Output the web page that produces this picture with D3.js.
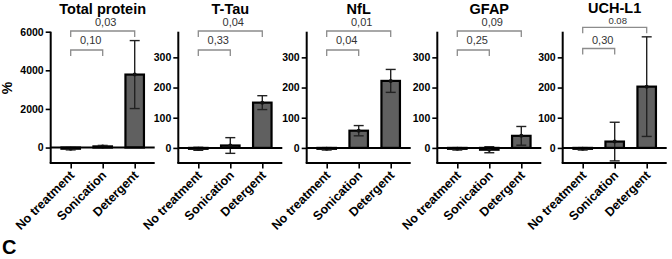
<!DOCTYPE html>
<html><head><meta charset="utf-8">
<script src="https://cdn.jsdelivr.net/npm/d3@7"></script>
<style>html,body{margin:0;padding:0;background:#fff;}svg{display:block;}</style>
</head><body>
<svg id="c" width="672" height="259"></svg>
<script>
// ---- data ----
const categories = ["No treatment", "Sonication", "Detergent"];
const titles = ["Total protein", "T-Tau", "NfL", "GFAP", "UCH-L1"];
const totalProteinMean = [-60, 60, 3780];
const totalProteinSD = [60, 50, 1760];
const tTauMean = [-3, 8, 150];
const tTauSD = [5, 26, 23];
const nflMean = [-3, 57, 222];
const nflSD = [4, 17, 38];
const gfapMean = [-3, -6, 40];
const gfapSD = [4, 10, 31];
const uchl1Mean = [-3, 21, 203];
const uchl1SD = [4, 64, 165];
const pOuter = ["0,03", "0,04", "0,01", "0,09", "0.08"];
const pInner = ["0,10", "0,33", "0,04", "0,25", "0,30"];
const yTicksTotal = [0, 2000, 4000, 6000];
const yTicksOther = [0, 100, 200, 300];

const panels = [
  {mean: totalProteinMean, sd: totalProteinSD, domain: [-800, 6000], ticks: yTicksTotal},
  {mean: tTauMean, sd: tTauSD, domain: [-50, 385], ticks: yTicksOther},
  {mean: nflMean, sd: nflSD, domain: [-50, 385], ticks: yTicksOther},
  {mean: gfapMean, sd: gfapSD, domain: [-50, 385], ticks: yTicksOther},
  {mean: uchl1Mean, sd: uchl1SD, domain: [-50, 385], ticks: yTicksOther}
];

// ---- layout ----
const panelX = [50.7, 178.3, 306.7, 437.3, 562.7];
const plotW = 104, yTop = 31.7, yBot = 163;
const FONT = "'Liberation Sans', Arial, Helvetica, sans-serif";
const svg = d3.select("#c").style("font-family", FONT);

panels.forEach((p, i) => {
  const g = svg.append("g").attr("transform", `translate(${panelX[i]},0)`);
  const x = d3.scalePoint().domain(categories).range([0, plotW]).padding(0.625);
  const y = d3.scaleLinear().domain(p.domain).range([yBot, yTop]);
  const isU = i === 4;

  // title
  g.append("text").attr("x", plotW / 2).attr("y", isU ? 13 : 13.5).attr("text-anchor", "middle")
    .attr("font-weight", "bold").attr("font-size", 14.5).attr("fill", "#000").text(titles[i]);

  // bars
  const bw = 18.5;
  g.selectAll("rect.bar").data(p.mean).join("rect").attr("class", "bar")
    .attr("x", (d, k) => x(categories[k]) - bw / 2)
    .attr("width", bw)
    .attr("y", d => y(Math.max(d, 0)))
    .attr("height", d => Math.abs(y(d) - y(0)))
    .attr("fill", "#606060").attr("stroke", "#000").attr("stroke-width", 2.2);

  // error bars
  const eb = g.append("g").attr("stroke", "#222").attr("stroke-width", 1.4).attr("fill", "none");
  p.mean.forEach((m, k) => {
    const cx = x(categories[k]);
    const hi = y(m + p.sd[k]), lo = y(m - p.sd[k]);
    eb.append("line").attr("x1", cx).attr("x2", cx).attr("y1", hi).attr("y2", lo);
    eb.append("line").attr("x1", cx - 5).attr("x2", cx + 5).attr("y1", hi).attr("y2", hi);
    eb.append("line").attr("x1", cx - 5).attr("x2", cx + 5).attr("y1", lo).attr("y2", lo);
    g.append("circle").attr("cx", cx).attr("cy", y(m)).attr("r", 2).attr("fill", "#111");
  });

  // zero line
  g.append("line").attr("x1", 0).attr("x2", plotW).attr("y1", y(0)).attr("y2", y(0))
    .attr("stroke", "#000").attr("stroke-width", 2);

  // y axis
  const ya = g.append("g").call(d3.axisLeft(y).tickValues(p.ticks).tickFormat(d3.format("d"))
    .tickSize(5).tickPadding(2).tickSizeOuter(0));
  ya.select(".domain").attr("stroke-width", 2).attr("d", `M0,${yTop}V${yBot}`);
  ya.selectAll(".tick line").attr("stroke-width", 1.6);
  ya.selectAll(".tick text").attr("font-family", FONT).attr("font-weight", "bold").attr("font-size", 10.5).attr("fill", "#000");

  // x axis
  const xa = g.append("g").attr("transform", `translate(0,${yBot})`)
    .call(d3.axisBottom(x).tickSize(5.5).tickSizeOuter(0));
  xa.select(".domain").attr("stroke-width", 2).attr("d", `M-1,0H${plotW}`);
  xa.selectAll(".tick line").attr("stroke-width", 1.6);
  xa.selectAll(".tick text").attr("font-family", FONT).attr("font-weight", "bold").attr("font-size", 12.5)
    .attr("fill", "#000").attr("text-anchor", "end").attr("dy", null).attr("y", null)
    .attr("transform", "translate(4,13) rotate(-45)");

  // significance brackets
  const oy = isU ? 27.3 : 31, iy = isU ? 48.5 : 50, tl = 6;
  const c0 = x(categories[0]), c1 = x(categories[1]), c2 = x(categories[2]);
  const br = g.append("g").attr("stroke", "#8c8c8c").attr("stroke-width", 1.3).attr("fill", "none");
  br.append("path").attr("d", `M${c0},${oy + tl}V${oy}H${c2}V${oy + tl}`);
  br.append("path").attr("d", `M${c0},${iy + tl}V${iy}H${c1}V${iy + tl}`);
  g.append("text").attr("x", (c0 + c2) / 2 + 3).attr("y", isU ? 23.5 : 26).attr("text-anchor", "middle")
    .attr("font-size", isU ? 9.5 : 11).attr("fill", "#333").text(pOuter[i]);
  g.append("text").attr("x", (c0 + c1) / 2 + 4).attr("y", 43.5).attr("text-anchor", "middle")
    .attr("font-size", 11).attr("fill", "#333").text(pInner[i]);
});

// y label
svg.append("text").attr("transform", "translate(12,88) rotate(-90)").attr("text-anchor", "middle")
  .attr("font-weight", "bold").attr("font-size", 14).attr("fill", "#000").text("%");

// panel letter
svg.append("text").attr("x", 2).attr("y", 254).attr("font-weight", "bold").attr("font-size", 20)
  .attr("fill", "#000").text("C");
</script>
</body></html>
